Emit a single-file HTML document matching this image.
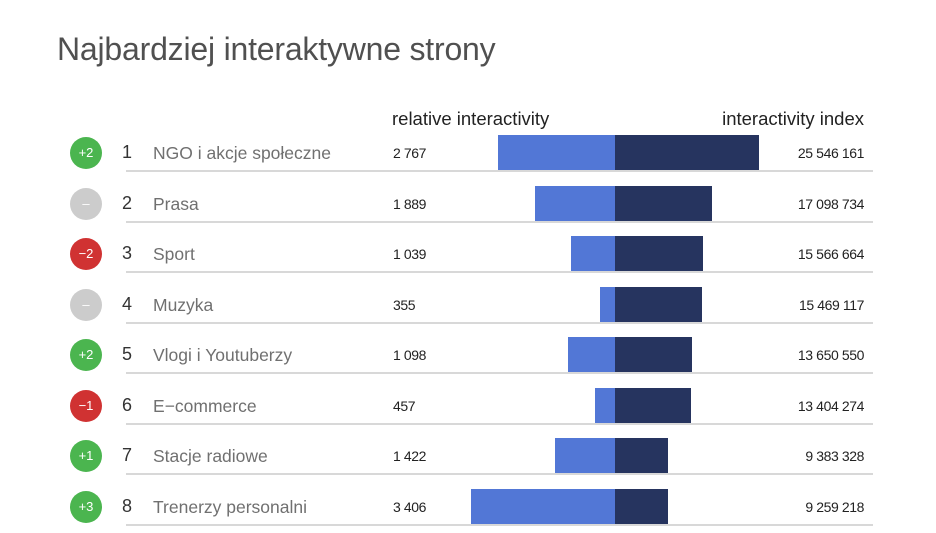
<!DOCTYPE html>
<html><head><meta charset="utf-8"><style>
body{margin:0;width:936px;height:533px;background:#fff;font-family:"Liberation Sans",sans-serif;position:relative;overflow:hidden}
.a{position:absolute;white-space:nowrap}
.t{left:57px;top:31px;font-size:32px;color:#505050;letter-spacing:-0.2px}
.h{top:108px;font-size:18.5px;color:#222}
.c{width:32px;height:32px;border-radius:50%;color:#fff;font-size:13px;text-align:center;line-height:32px;left:70px}
.n{left:122px;font-size:18px;color:#333}
.l{left:153px;font-size:17.5px;color:#707070}
.v{left:393px;font-size:14px;color:#222;letter-spacing:-0.4px}
.r{right:72px;font-size:14px;color:#222;letter-spacing:-0.4px}
.ln{left:126px;width:747px;height:2px;background:#d8d8d8}
.b1{background:#5277d6;height:36px}
.b2{background:#26345f;height:36px;left:615px}
</style></head><body>
<div class="a t">Najbardziej interaktywne strony</div>
<div class="a h" style="left:392px">relative interactivity</div>
<div class="a h" style="right:72px">interactivity index</div>
<div id="rows"></div>
<script>
const d=[["+2","#4bb54f","NGO i akcje społeczne","2 767","25 546 161",498,759],
["–","#cccccc","Prasa","1 889","17 098 734",535,712],
["−2","#d03232","Sport","1 039","15 566 664",571,703],
["–","#cccccc","Muzyka","355","15 469 117",600,702],
["+2","#4bb54f","Vlogi i Youtuberzy","1 098","13 650 550",568,692],
["−1","#d03232","E−commerce","457","13 404 274",595,691],
["+1","#4bb54f","Stacje radiowe","1 422","9 383 328",555,668],
["+3","#4bb54f","Trenerzy personalni","3 406","9 259 218",471,668]];
let h="";
d.forEach((r,i)=>{const top=135+i*50.5,cy=top+18;
h+=`<div class="a c" style="top:${cy-16}px;background:${r[1]}">${r[0]}</div>
<div class="a n" style="top:${cy-11}px">${i+1}</div>
<div class="a l" style="top:${cy-10}px">${r[2]}</div>
<div class="a v" style="top:${cy-8}px">${r[3]}</div>
<div class="a r" style="top:${cy-8}px">${r[4]}</div>
<div class="a b1" style="top:${top}px;left:${r[5]}px;width:${615-r[5]}px"></div>
<div class="a b2" style="top:${top}px;width:${r[6]-615}px"></div>
<div class="a ln" style="top:${top+35}px"></div>`;});
document.getElementById("rows").innerHTML=h;
</script>
</body></html>
